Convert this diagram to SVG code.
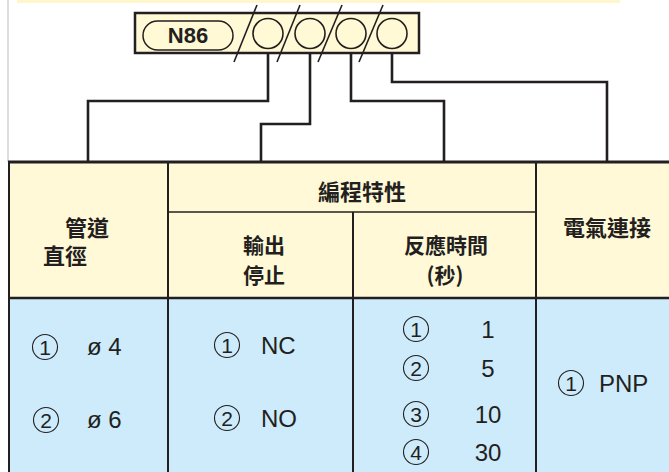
<svg xmlns="http://www.w3.org/2000/svg" width="669" height="472" viewBox="0 0 669 472">
<style>
.wire{stroke:#231f20;stroke-width:2.6;fill:none}
.hd{font-family:"Noto Sans CJK TC","Noto Sans CJK SC",sans-serif;font-weight:bold;font-size:22px;fill:#231f20}
.h2{font-size:21px}
.bt{font-family:"Liberation Sans","DejaVu Sans",sans-serif;font-size:24px;fill:#231f20}
.cd{font-family:"Liberation Sans","DejaVu Sans",sans-serif;font-size:21px;fill:#231f20;text-anchor:middle}
.cc{fill:none;stroke:#231f20;stroke-width:1.1}
.mid{text-anchor:middle}
</style>
<rect x="0" y="0" width="669" height="472" fill="#ffffff"/>
<rect x="17" y="0" width="603" height="3" fill="#fff6cc"/>
<line x1="8" y1="0" x2="8" y2="162" stroke="#bbbbbb" stroke-width="1"/>

<g id="connector-block">
  <rect x="135" y="13" width="284" height="40" fill="#fff9d5" stroke="#231f20" stroke-width="2.5"/>
  <rect x="143" y="21" width="90" height="29" rx="14.5" fill="none" stroke="#231f20" stroke-width="1.5"/>
  <text x="188" y="43" font-family="'Liberation Sans',Arial,sans-serif" font-weight="bold" font-size="22" fill="#231f20" text-anchor="middle">N86</text>
  <g fill="none" stroke="#231f20" stroke-width="1.6">
    <ellipse cx="268" cy="33.5" rx="15" ry="15"/>
    <ellipse cx="310" cy="33.5" rx="15" ry="15"/>
    <ellipse cx="351" cy="33.5" rx="15" ry="15"/>
    <ellipse cx="392" cy="33.5" rx="15" ry="15"/>
    <line x1="234" y1="62" x2="257" y2="5"/>
    <line x1="277" y1="62" x2="300" y2="5"/>
    <line x1="318" y1="62" x2="342" y2="5"/>
    <line x1="359" y1="62" x2="383" y2="5"/>
  </g>
</g>

<g id="connectors">
  <path class="wire" d="M268 53 V101 H88 V162"/>
  <path class="wire" d="M310 53 V124 H261 V162"/>
  <path class="wire" d="M351 53 V101 H444 V162"/>
  <path class="wire" d="M392 53 V82 H607 V162"/>
</g>

<g id="table">
  <rect x="9" y="162" width="660" height="136" fill="#fff9d7"/>
  <rect x="9" y="298" width="660" height="174" fill="#cdebfb"/>
  <line x1="8" y1="162" x2="669" y2="162" stroke="#231f20" stroke-width="3"/>
  <line x1="9" y1="162" x2="9" y2="472" stroke="#231f20" stroke-width="2"/>
  <line x1="168" y1="162" x2="168" y2="472" stroke="#231f20" stroke-width="2"/>
  <line x1="536" y1="162" x2="536" y2="472" stroke="#231f20" stroke-width="2"/>
  <line x1="353" y1="212" x2="353" y2="472" stroke="#231f20" stroke-width="2"/>
  <line x1="168" y1="212" x2="536" y2="212" stroke="#231f20" stroke-width="1.5"/>
  <line x1="9" y1="298" x2="669" y2="298" stroke="#231f20" stroke-width="2.5"/>
</g>

<g id="header-diameter">
  <text class="hd"><tspan x="65" y="236">管道</tspan><tspan x="43" y="264">直徑</tspan></text>
</g>
<g id="header-programming">
  <text class="hd mid" x="362" y="200">編程特性</text>
</g>
<g id="header-output">
  <text class="hd h2 mid"><tspan x="264" y="253">輸出</tspan><tspan x="264" y="282.5">停止</tspan></text>
</g>
<g id="header-response">
  <text class="hd h2 mid"><tspan x="446" y="253">反應時間</tspan><tspan x="445" y="282.5">(秒)</tspan></text>
</g>
<g id="header-electrical">
  <text class="hd mid" x="607" y="236">電氣連接</text>
</g>

<g id="cell-diameter">
  <circle class="cc" cx="45" cy="347" r="12.5"/><text class="cd" x="45" y="354.5">1</text>
  <text class="bt" x="87" y="355">ø 4</text>
  <circle class="cc" cx="46" cy="420" r="12.5"/><text class="cd" x="46" y="427.5">2</text>
  <text class="bt" x="87" y="428">ø 6</text>
</g>
<g id="cell-output">
  <circle class="cc" cx="227" cy="345" r="12.5"/><text class="cd" x="227" y="352.5">1</text>
  <text class="bt" x="261" y="354">NC</text>
  <circle class="cc" cx="227" cy="418" r="12.5"/><text class="cd" x="227" y="425.5">2</text>
  <text class="bt" x="261" y="427">NO</text>
</g>
<g id="cell-response">
  <circle class="cc" cx="416" cy="329" r="12.5"/><text class="cd" x="416" y="336.5">1</text>
  <text class="bt mid" x="488" y="338">1</text>
  <circle class="cc" cx="416" cy="368" r="12.5"/><text class="cd" x="416" y="375.5">2</text>
  <text class="bt mid" x="488" y="377">5</text>
  <circle class="cc" cx="416" cy="414" r="12.5"/><text class="cd" x="416" y="421.5">3</text>
  <text class="bt mid" x="488" y="423">10</text>
  <circle class="cc" cx="416" cy="452" r="12.5"/><text class="cd" x="416" y="459.5">4</text>
  <text class="bt mid" x="488" y="461">30</text>
</g>
<g id="cell-electrical">
  <circle class="cc" cx="571" cy="383" r="12.5"/><text class="cd" x="571" y="390.5">1</text>
  <text class="bt" x="599" y="392">PNP</text>
</g>
</svg>
